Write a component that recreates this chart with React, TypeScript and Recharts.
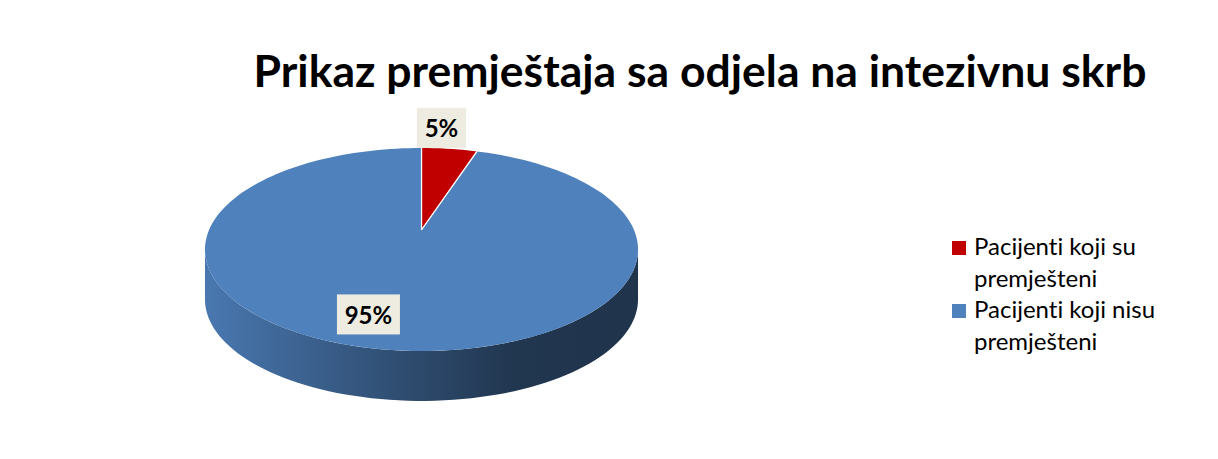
import { Cell, Customized, Legend, Pie, PieChart } from 'recharts';

const title = 'Prikaz premještaja sa odjela na intezivnu skrb';
const categories = ['Pacijenti koji su premješteni', 'Pacijenti koji nisu premješteni'];
const shares = [5, 95];

const COLORS = ['#c00000', '#4f81bd'];

const data = categories.map((name, i) => ({ name, value: shares[i] }));

// fake 3d: perspective tilt, vertical squash, wall depth (all relative to radius)
const TILT = 0.192;
const SQUASH = 0.46;
const DEPTH = 0.235;

const project = (cx: number, cy: number, r: number, deg: number, f = 1) => {
  const a = (deg * Math.PI) / 180;
  const u = f * Math.cos(a);
  const v = f * Math.sin(a);
  const d = 1 + TILT * v;
  return [cx + (r * u) / d, cy - (SQUASH * r * v) / d];
};

const rim = (cx: number, cy: number, r: number, from: number, to: number, dy = 0) => {
  const pts: string[] = [];
  const n = Math.max(2, Math.ceil(Math.abs(to - from) / 2));
  for (let i = 0; i <= n; i++) {
    const [x, y] = project(cx, cy, r, from + ((to - from) * i) / n);
    pts.push(`${x.toFixed(2)},${(y + dy).toFixed(2)}`);
  }
  return pts;
};

const shade = (hex: string, k: number) => {
  const n = parseInt(hex.slice(1), 16);
  const c = [(n >> 16) & 255, (n >> 8) & 255, n & 255].map((v) => Math.round(v * k));
  return `rgb(${c.join(',')})`;
};

const Slice3D = (props: any) => {
  const { cx, cy, outerRadius: r, startAngle, endAngle, fill, index } = props;
  const depth = r * DEPTH;
  const lo = Math.min(startAngle, endAngle);
  const hi = Math.max(startAngle, endAngle);
  const edge = (Math.asin(TILT) * 180) / Math.PI;
  const gid = `side-${index}`;

  const walls = [];
  for (const shift of [-360, 0, 360]) {
    const a = Math.max(lo, -180 + edge + shift);
    const b = Math.min(hi, -edge + shift);
    if (b > a) {
      const top = rim(cx, cy, r, a, b);
      const bottom = rim(cx, cy, r, b, a, depth);
      walls.push(<polygon key={shift} points={[...top, ...bottom].join(' ')} fill={`url(#${gid})`} />);
    }
  }

  const face = [`${cx},${cy}`, ...rim(cx, cy, r, startAngle, endAngle)].join(' ');
  const [sx, sy] = project(cx, cy, r, startAngle);
  const [ex, ey] = project(cx, cy, r, endAngle);
  const full = hi - lo >= 359.9;

  return (
    <g>
      <defs>
        <linearGradient id={gid} gradientUnits="userSpaceOnUse" x1={cx - r * 1.02} x2={cx + r * 1.02} y1={0} y2={0}>
          <stop offset="0%" stopColor={shade(fill, 0.93)} />
          <stop offset="45%" stopColor={shade(fill, 0.6)} />
          <stop offset="72%" stopColor={shade(fill, 0.42)} />
          <stop offset="100%" stopColor={shade(fill, 0.4)} />
        </linearGradient>
      </defs>
      {walls}
      <polygon points={face} fill={fill} />
      {!full && (
        <g stroke="#ffffff" strokeWidth={1.2}>
          <line x1={cx} y1={cy} x2={sx} y2={sy} />
          <line x1={cx} y1={cy} x2={ex} y2={ey} />
        </g>
      )}
    </g>
  );
};

const renderLabel = (props: any) => {
  const { cx, cy, midAngle, outerRadius: r, percent } = props;
  const text = `${Math.round(percent * 100)}%`;
  const w = text.length * 14 + 21;
  const h = 40;
  let x: number;
  let y: number;
  if (percent < 0.5) {
    const [px, py] = project(cx, cy, r, midAngle);
    x = px - 8;
    y = py - h / 2 - 1;
  } else {
    const [px, py] = project(cx, cy, r, midAngle, 0.75);
    x = px - 24;
    y = py;
  }
  return (
    <g>
      <rect x={x - w / 2} y={y - h / 2} width={w} height={h} fill="#eeece1" />
      <text
        x={x}
        y={y}
        textAnchor="middle"
        dominantBaseline="central"
        fontFamily="Lato, sans-serif"
        fontWeight="bold"
        fontSize={24}
        fill="#000"
      >
        {text}
      </text>
    </g>
  );
};

const renderLegend = (props: any) => {
  const payload = [...(props.payload || [])].sort(
    (a: any, b: any) => categories.indexOf(a.value) - categories.indexOf(b.value),
  );
  return (
    <div
      style={{
        fontFamily: 'Lato, sans-serif',
        fontSize: 24,
        lineHeight: '31.5px',
        color: '#000',
        fontVariantLigatures: 'none',
      }}
    >
      {payload.map((entry: any) => (
        <div key={entry.value} style={{ display: 'flex', alignItems: 'flex-start' }}>
          <span
            style={{ width: 14, height: 14, background: entry.color, marginTop: 11, marginRight: 8, flex: 'none' }}
          />
          <span>{entry.value}</span>
        </div>
      ))}
    </div>
  );
};

// outer frame of the chart area, drawn inside the svg
const Frame = () => <path d="M7 459 V6 H1218" fill="none" stroke="#8c8c8c" strokeWidth={2} />;

const App = () => {
  return (
    <div style={{ position: 'relative', width: 1218, height: 459, margin: -8, overflow: 'hidden', background: '#fff' }}>
      <div
        style={{
          position: 'absolute',
          left: 700,
          top: 47.5,
          transform: 'translateX(-50%)',
          whiteSpace: 'nowrap',
          fontFamily: 'Lato, sans-serif',
          fontWeight: 'bold',
          fontSize: 44.5,
          lineHeight: '44.5px',
          color: '#000',
        }}
      >
        {title}
      </div>
      <div style={{ position: 'absolute', left: 0, top: 0 }}>
        <PieChart width={1218} height={459} margin={{ top: 0, right: 0, bottom: 0, left: 0 }}>
          <Customized component={Frame} />
          <Pie
            data={data}
            dataKey="value"
            nameKey="name"
            cx={421.5}
            cy={230}
            outerRadius={212.5}
            startAngle={90}
            endAngle={-270}
            stroke="none"
            shape={Slice3D}
            label={renderLabel}
            labelLine={false}
            isAnimationActive={false}
          >
            {data.map((d, i) => (
              <Cell key={d.name} fill={COLORS[i]} />
            ))}
          </Pie>
          <Legend
            layout="vertical"
            content={renderLegend}
            wrapperStyle={{ left: 952, top: 230, width: 215 }}
          />
        </PieChart>
      </div>
    </div>
  );
};

export default App;
